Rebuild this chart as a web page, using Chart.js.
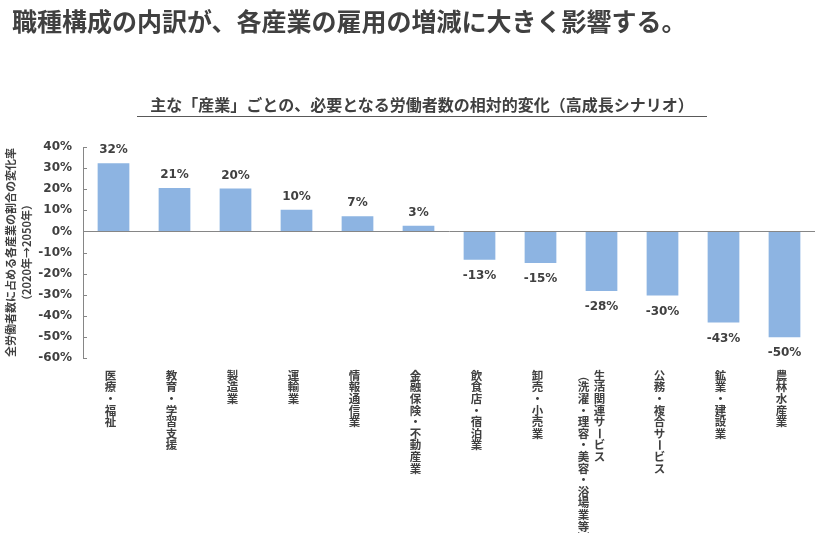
<!DOCTYPE html>
<html lang="ja">
<head>
<meta charset="utf-8">
<title>産業別の労働者数の相対的変化</title>
<script src="https://cdn.jsdelivr.net/npm/chart.js@4/dist/chart.umd.min.js"></script>
<style>
  html, body { margin: 0; padding: 0; background: #fff; }
  #wrap { position: relative; width: 839px; height: 533px; overflow: hidden; }
  #headline {
    position: absolute; left: 12px; top: 6px;
    font: bold 25px "Noto Sans CJK JP", sans-serif; line-height: 28px;
    color: #404040; white-space: nowrap;
  }
  #subtitle {
    position: absolute; left: 137px; top: 92px; width: 570px; height: 24px;
    font: bold 16px "Noto Sans CJK JP", sans-serif; line-height: 24px;
    color: #404040; text-align: center; white-space: nowrap;
    border-bottom: 1.5px solid #595959;
  }
  #chart { position: absolute; left: 0; top: 0; }
</style>
</head>
<body>
<div id="wrap">
  <canvas id="chart" width="839" height="533"></canvas>
  <div id="headline">職種構成の内訳が、各産業の雇用の増減に大きく影響する。</div>
  <div id="subtitle">主な「産業」ごとの、必要となる労働者数の相対的変化（高成長シナリオ）</div>
</div>
<script>
// categories (one entry per vertical column of text)
const categories = [
  ['医療・福祉'],
  ['教育・学習支援'],
  ['製造業'],
  ['運輸業'],
  ['情報通信業'],
  ['金融保険・不動産業'],
  ['飲食店・宿泊業'],
  ['卸売・小売業'],
  ['生活関連サービス', '（洗濯・理容・美容・浴場業等）'],
  ['公務・複合サービス'],
  ['鉱業・建設業'],
  ['農林水産業']
];
// change in share of all workers, % (2020 -> 2050)
const changeRates = [32.3, 20.6, 20.3, 10.3, 7.2, 2.7, -13.4, -15.0, -28.2, -30.4, -43.2, -50.2];
const yTicks = { min: -60, max: 40, step: 10 };
const yTitle = ['全労働者数に占める各産業の割合の変化率', '（2020年→2050年）'];

const textColor = '#404040';
const axisColor = '#868686';
const barColor = '#8db4e2';
const numFont = '"DejaVu Sans", Verdana, sans-serif';
const jpFont = '"Noto Sans CJK JP", sans-serif';

// value labels above / below each bar
const valueLabels = {
  id: 'valueLabels',
  afterDatasetsDraw(chart) {
    const ctx = chart.ctx;
    const meta = chart.getDatasetMeta(0);
    ctx.save();
    ctx.font = 'bold 12px ' + numFont;
    ctx.fillStyle = textColor;
    ctx.textAlign = 'center';
    ctx.textBaseline = 'middle';
    meta.data.forEach((bar, i) => {
      const v = changeRates[i];
      const y = v >= 0 ? bar.y - 13 : bar.y + 16;
      ctx.fillText(Math.round(v) + '%', bar.x, y);
    });
    ctx.restore();
  }
};

// short tick marks on the inner side of the y axis
const innerTicks = {
  id: 'innerTicks',
  afterDraw(chart) {
    const y = chart.scales.y;
    const ctx = chart.ctx;
    ctx.save();
    ctx.strokeStyle = axisColor;
    ctx.lineWidth = 1;
    y.ticks.forEach(t => {
      const py = Math.round(y.getPixelForValue(t.value)) + 0.5;
      ctx.beginPath();
      ctx.moveTo(y.right, py);
      ctx.lineTo(y.right + 4, py);
      ctx.stroke();
    });
    ctx.restore();
  }
};

// category names written top-to-bottom under each bar
const rotated = 'ー';
const verticalForms = { '（': '︵', '）': '︶' };
const verticalLabels = {
  id: 'verticalLabels',
  afterDraw(chart) {
    const x = chart.scales.x;
    const ctx = chart.ctx;
    const top = chart.chartArea.bottom + 17.5;
    const step = 11.6;
    ctx.save();
    ctx.font = 'bold 11.5px ' + jpFont;
    ctx.fillStyle = textColor;
    ctx.textAlign = 'center';
    ctx.textBaseline = 'middle';
    categories.forEach((lines, i) => {
      const base = x.getPixelForValue(i) - 3 - (lines.length - 1) * 7;
      lines.forEach((line, j) => {
        const cx = base + ((lines.length - 1) / 2 - j) * 16;
        [...line].forEach((ch, k) => {
          const cy = top + k * step;
          if (rotated.includes(ch)) {
            ctx.save();
            ctx.translate(cx, cy);
            ctx.rotate(Math.PI / 2);
            ctx.fillText(ch, 0, 0);
            ctx.restore();
          } else {
            ctx.fillText(verticalForms[ch] || ch, cx, cy);
          }
        });
      });
    });
    ctx.restore();
  }
};

new Chart(document.getElementById('chart'), {
  type: 'bar',
  data: {
    labels: categories.map(c => c.join('')),
    datasets: [{
      data: changeRates,
      backgroundColor: barColor,
      borderWidth: 0,
      barPercentage: 0.52,
      categoryPercentage: 1
    }]
  },
  options: {
    responsive: false,
    animation: false,
    layout: { padding: { top: 147, bottom: 175, left: 0, right: 24 } },
    plugins: {
      legend: { display: false },
      tooltip: { enabled: false }
    },
    scales: {
      x: {
        display: false
      },
      y: {
        min: yTicks.min,
        max: yTicks.max,
        afterFit(scale) { scale.width = 83; },
        border: { display: true, color: axisColor, width: 1 },
        grid: {
          drawTicks: false,
          color: c => (c.tick && c.tick.value === 0 ? axisColor : 'rgba(0,0,0,0)'),
          lineWidth: 1
        },
        ticks: {
          stepSize: yTicks.step,
          padding: 11,
          color: textColor,
          font: { family: numFont, size: 12, weight: 'bold' },
          callback: v => v + '%'
        },
        title: {
          display: true,
          text: yTitle,
          color: textColor,
          font: { family: jpFont, size: 11, weight: 'bold', lineHeight: 1.45 },
          padding: { top: 2.5, bottom: 0 }
        }
      }
    }
  },
  plugins: [valueLabels, innerTicks, verticalLabels]
});
</script>
</body>
</html>
